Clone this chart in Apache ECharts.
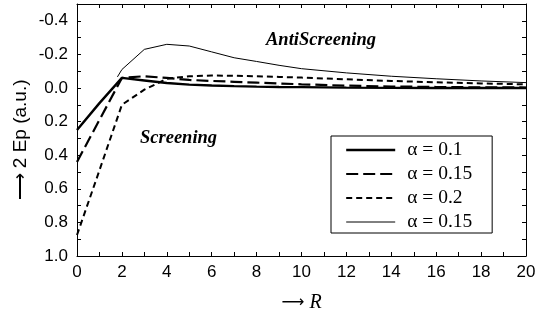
<!DOCTYPE html>
<html>
<head>
<meta charset="utf-8">
<script src="https://cdn.jsdelivr.net/npm/echarts@6/dist/echarts.min.js"></script>
<style>
  html, body { margin: 0; padding: 0; background: #fff; }
  #chart { width: 535px; height: 310px; }
</style>
</head>
<body>
<div id="chart"></div>
<script>
  // data
  const names = ['α = 0.1', 'α = 0.15', 'α = 0.2', 'α = 0.15 ']
  const rValues = [0, 1, 2, 3, 4, 5, 6, 7, 8, 9, 10, 12, 14, 16, 18, 20]
  const ep01 = [0.25, 0.09, -0.06, -0.045, -0.03, -0.02, -0.015, -0.011, -0.008, -0.006, -0.005, -0.002, -0.001, 0, 0, 0]
  const ep015 = [0.44, 0.19, -0.06, -0.07, -0.06, -0.048, -0.042, -0.037, -0.032, -0.027, -0.022, -0.014, -0.009, -0.006, -0.004, -0.003]
  const ep02 = [0.875, 0.49, 0.10, 0.01, -0.055, -0.07, -0.074, -0.073, -0.07, -0.066, -0.062, -0.052, -0.042, -0.034, -0.027, -0.022]
  const rThin = [1.8, 2, 3, 4, 5, 6, 7, 8, 9, 10, 12, 14, 16, 18, 20]
  const epThin = [-0.066, -0.11, -0.23, -0.26, -0.25, -0.215, -0.18, -0.158, -0.135, -0.115, -0.09, -0.07, -0.055, -0.042, -0.032]
  const xTicks = [0, 2, 4, 6, 8, 10, 12, 14, 16, 18, 20]
  const yTicks = [-0.4, -0.2, 0.0, 0.2, 0.4, 0.6, 0.8, 1.0]

  const pairs = (xs, ys) => xs.map((x, i) => [x, ys[i]])

  let myChart = echarts.init(document.getElementById('chart'))

  const sans = 'Liberation Sans, Arial, sans-serif'
  const serif = 'Liberation Serif, Times New Roman, serif'

  let baseX = {
    type: 'value',
    min: 0,
    max: 20,
    interval: 1,
    axisLine: { show: true, onZero: false, lineStyle: { color: '#000', width: 1 } },
    axisTick: { show: true, inside: true, length: 4, lineStyle: { color: '#000' } },
    splitLine: { show: false }
  }
  let baseY = {
    type: 'value',
    min: -0.5,
    max: 1.0,
    interval: 0.1,
    inverse: true,
    axisLine: { show: true, onZero: false, lineStyle: { color: '#000', width: 1 } },
    axisTick: { show: true, inside: true, length: 4, lineStyle: { color: '#000' } },
    splitLine: { show: false }
  }

  let option = {
    animation: false,
    grid: { left: 77, right: 9, top: 4, bottom: 54, containLabel: false, outerBoundsMode: 'none' },
    xAxis: [
      Object.assign({}, baseX, {
        position: 'bottom',
        name: '{a|⟶ }{r|R}',
        nameLocation: 'middle',
        nameGap: 37,
        nameTextStyle: {
          rich: {
            a: { fontFamily: 'DejaVu Sans', fontSize: 16, color: '#000' },
            r: { fontFamily: serif, fontStyle: 'italic', fontSize: 20, color: '#000' }
          }
        },
        axisLabel: {
          color: '#000',
          fontFamily: sans,
          fontSize: 17,
          margin: 8,
          formatter: v => (xTicks.indexOf(Math.round(v)) >= 0 ? String(Math.round(v)) : '')
        }
      }),
      Object.assign({}, baseX, { position: 'top', axisLabel: { show: false } })
    ],
    yAxis: [
      Object.assign({}, baseY, {
        position: 'left',
        axisLabel: {
          color: '#000',
          fontFamily: sans,
          fontSize: 17,
          margin: 9,
          formatter: v => {
            let k = Math.round(v * 10)
            let hit = yTicks.some(t => Math.round(t * 10) === k)
            return hit ? (k / 10).toFixed(1) : ''
          }
        }
      }),
      Object.assign({}, baseY, { position: 'right', axisLabel: { show: false } })
    ],
    legend: {
      left: 331,
      top: 136,
      orient: 'vertical',
      data: names.map((n, i) => ({ name: n, lineStyle: { width: i === 3 ? 1 : (i === 0 ? 2.4 : 2.2) } })),
      itemWidth: 49,
      itemHeight: 14,
      itemGap: 4,
      itemStyle: { opacity: 0 },
      padding: [4, 15, 1, 14],
      borderColor: '#000',
      borderWidth: 1,
      borderRadius: 0,
      backgroundColor: '#fff',
      textStyle: { color: '#000', fontFamily: serif, fontSize: 19.5, padding: [0, 0, 0, 7] }
    },
    graphic: [
      {
        type: 'text', x: 21, y: 140, rotation: Math.PI / 2,
        style: {
          text: '⟶ 2 Ep (a.u.)', fill: '#000', font: '19px ' + sans,
          align: 'center', verticalAlign: 'middle'
        }
      },
      {
        type: 'text', left: 266, top: 31,
        style: { text: 'AntiScreening', fill: '#000', font: 'italic bold 18.5px ' + serif }
      },
      {
        type: 'text', left: 140, top: 129,
        style: { text: 'Screening', fill: '#000', font: 'italic bold 18.5px ' + serif }
      }
    ],
    series: [
      {
        name: names[0], type: 'line', symbol: 'none',
        data: pairs(rValues, ep01),
        itemStyle: { color: '#000' },
        lineStyle: { color: '#000', width: 2.4, type: 'solid' }
      },
      {
        name: names[1], type: 'line', symbol: 'none',
        data: pairs(rValues, ep015),
        itemStyle: { color: '#000' },
        lineStyle: { color: '#000', width: 2.2, type: [12, 5] }
      },
      {
        name: names[2], type: 'line', symbol: 'none',
        data: pairs(rValues, ep02),
        itemStyle: { color: '#000' },
        lineStyle: { color: '#000', width: 2, type: [6, 4] }
      },
      {
        name: names[3], type: 'line', symbol: 'none',
        data: pairs(rThin, epThin),
        itemStyle: { color: '#000' },
        lineStyle: { color: '#000', width: 1, type: 'solid' }
      }
    ]
  }
  myChart.setOption(option)
</script>
</body>
</html>
